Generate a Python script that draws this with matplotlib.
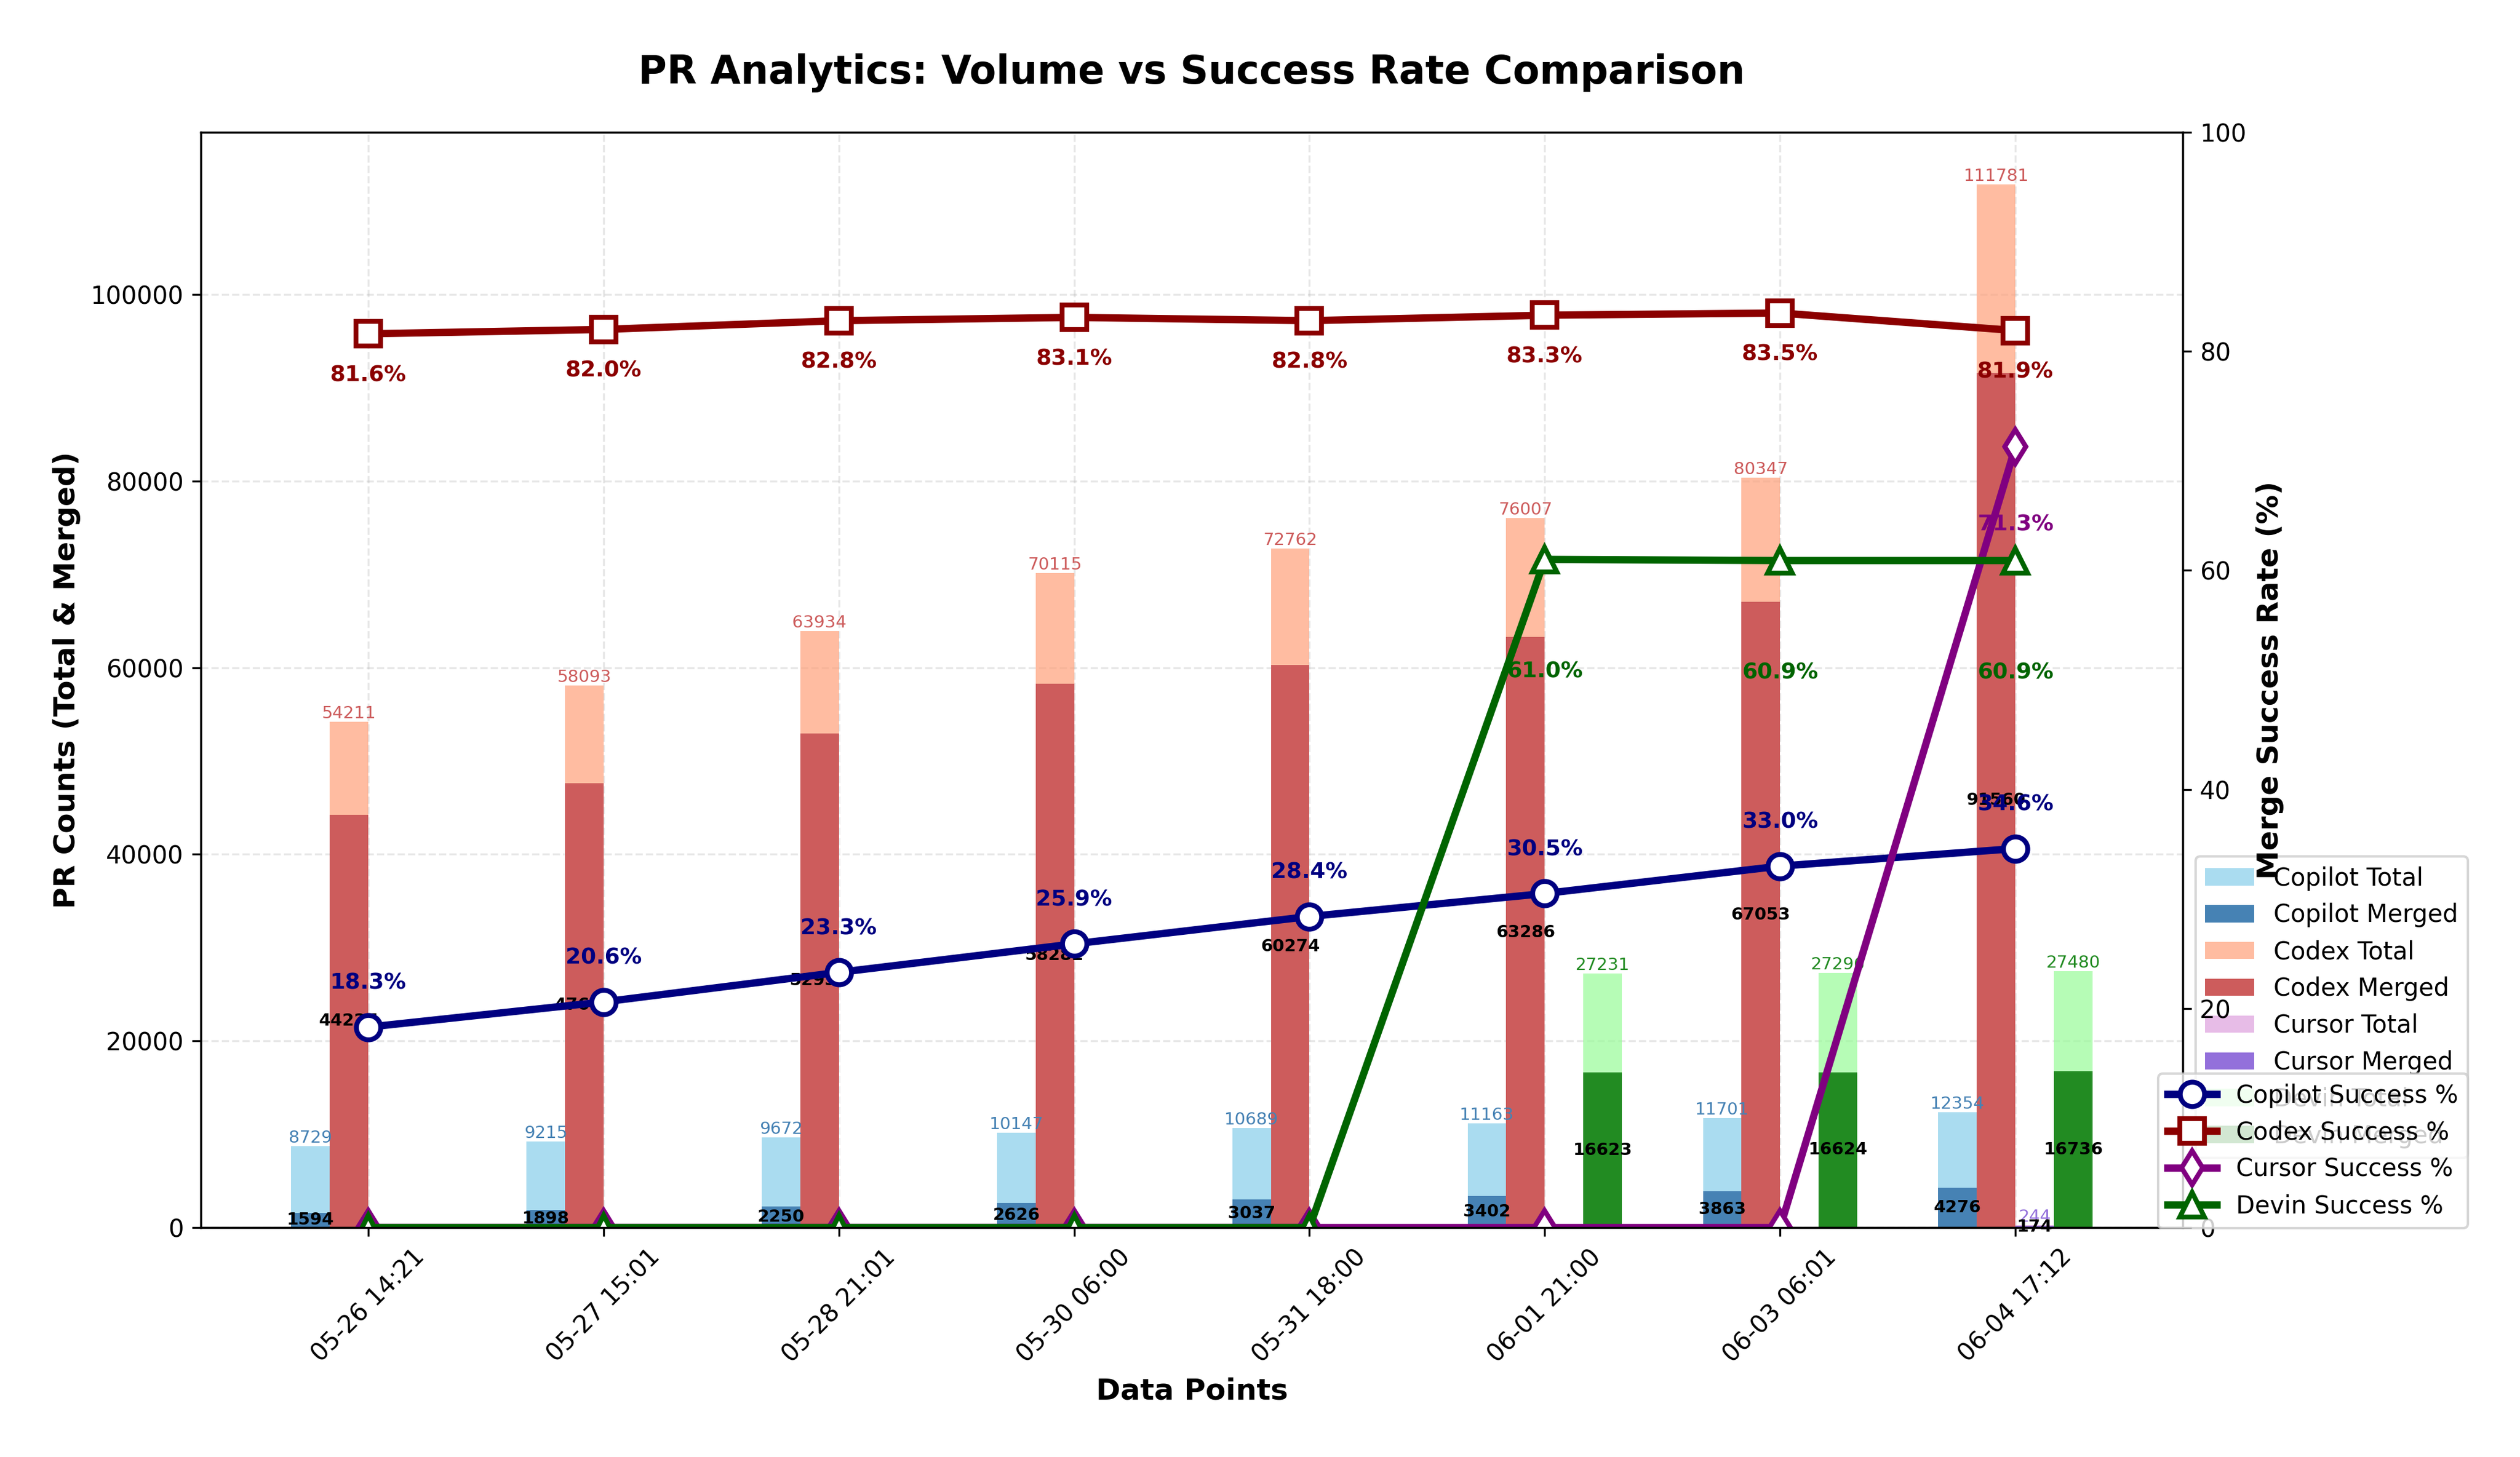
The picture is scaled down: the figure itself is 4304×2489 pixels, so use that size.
import matplotlib
matplotlib.use('Agg')
import matplotlib.pyplot as plt
import numpy as np

# Data
dates = ['05-26 14:21', '05-27 15:01', '05-28 21:01', '05-30 06:00',
         '05-31 18:00', '06-01 21:00', '06-03 06:01', '06-04 17:12']

copilot_total = [8729, 9215, 9672, 10147, 10689, 11163, 11701, 12354]
copilot_merged = [1594, 1898, 2250, 2626, 3037, 3402, 3863, 4276]
codex_total = [54211, 58093, 63934, 70115, 72762, 76007, 80347, 111781]
codex_merged = [44227, 47636, 52937, 58282, 60274, 63286, 67053, 91560]
cursor_total = [0, 0, 0, 0, 0, 0, 0, 244]
cursor_merged = [0, 0, 0, 0, 0, 0, 0, 174]
devin_total = [0, 0, 0, 0, 0, 27231, 27296, 27480]
devin_merged = [0, 0, 0, 0, 0, 16623, 16624, 16736]

copilot_rate = [18.3, 20.6, 23.3, 25.9, 28.4, 30.5, 33.0, 34.6]
codex_rate = [81.6, 82.0, 82.8, 83.1, 82.8, 83.3, 83.5, 81.9]
cursor_rate = [0, 0, 0, 0, 0, 0, 0, 71.3]
devin_rate = [0, 0, 0, 0, 0, 61.0, 60.9, 60.9]

W, H = 4304, 2489
fig = plt.figure(figsize=(W / 300, H / 300), dpi=300)
ax1 = fig.add_axes([343 / W, 1 - 2097 / H, (3728 - 343) / W, (2097 - 226) / H])
ax2 = ax1.twinx()

x = np.arange(len(dates))
width = 0.164

providers = [
    ('Copilot', copilot_total, copilot_merged, 'skyblue', 'steelblue', -1.5),
    ('Codex', codex_total, codex_merged, 'lightsalmon', 'indianred', -0.5),
    ('Cursor', cursor_total, cursor_merged, 'plum', 'mediumpurple', 0.5),
    ('Devin', devin_total, devin_merged, 'palegreen', 'forestgreen', 1.5),
]

for name, totals, merged, c_tot, c_mer, off in providers:
    pos = x + off * width
    ax1.bar(pos, totals, width, color=c_tot, alpha=0.7, label=f'{name} Total')
    ax1.bar(pos, merged, width, color=c_mer, label=f'{name} Merged')
    for p, t, m in zip(pos, totals, merged):
        if t > 0:
            ax1.text(p, t, f'{t}', ha='center', va='bottom', fontsize=7, color=c_mer)
        if m > 0:
            ax1.text(p, m / 2, f'{m}', ha='center', va='center', fontsize=7,
                     fontweight='bold', color='black')

lines = [
    ('Copilot', copilot_rate, 'navy', 'o', 18),
    ('Codex', codex_rate, 'darkred', 's', -17),
    ('Cursor', cursor_rate, 'purple', 'd', -32),
    ('Devin', devin_rate, 'darkgreen', '^', -46),
]

for name, rates, color, marker, dy in lines:
    ax2.plot(x, rates, marker=marker, color=color, linewidth=3, markersize=10,
             markerfacecolor='white', markeredgewidth=2, label=f'{name} Success %')
    for xi, r in zip(x, rates):
        if r > 0:
            ax2.annotate(f'{r:.1f}%', (xi, r), xytext=(0, dy), textcoords='offset points',
                         ha='center', va='center', fontsize=9, fontweight='bold', color=color)

ax1.set_ylim(0, max(codex_total) * 1.05)
ax2.set_ylim(0, 100)

ax1.set_xticks(x)
ax1.set_xticklabels(dates, rotation=45)
ax1.tick_params(labelsize=10)
ax2.tick_params(labelsize=10)

ax1.set_xlabel('Data Points', fontsize=12, fontweight='bold')
ax1.set_ylabel('PR Counts (Total & Merged)', fontsize=12, fontweight='bold')
ax2.set_ylabel('Merge Success Rate (%)', fontsize=12, fontweight='bold')
ax1.set_title('PR Analytics: Volume vs Success Rate Comparison',
              fontsize=16, fontweight='bold', pad=20)

ax1.grid(True, alpha=0.3, linestyle='--')
ax1.set_axisbelow(True)

ax1.legend(loc='upper right', bbox_to_anchor=(4215 / W, 1 - 1463 / H),
           bbox_transform=fig.transFigure, borderaxespad=0, fontsize=10)
ax2.legend(loc='lower right', bbox_to_anchor=(4215 / W, 1 - 2098 / H),
           bbox_transform=fig.transFigure, borderaxespad=0, fontsize=10)

fig.savefig('out.png', dpi=300, facecolor='white')
